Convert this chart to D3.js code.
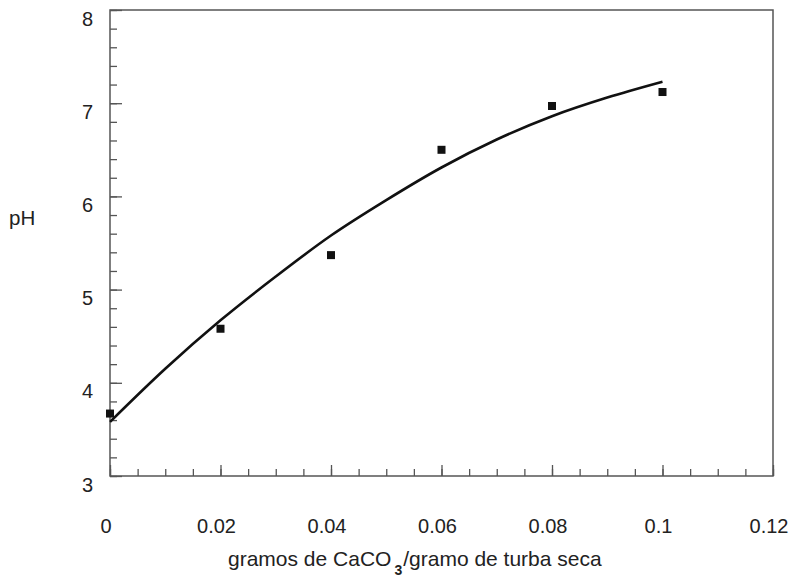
<!DOCTYPE html>
<html>
<head>
<meta charset="utf-8">
<script src="https://cdn.jsdelivr.net/npm/d3@7"></script>
<style>
  html, body { margin: 0; padding: 0; background: #fff; }
  svg { display: block; }
  text { font-family: "Liberation Sans", Arial, sans-serif; fill: #222; }
</style>
</head>
<body>
<svg id="chart" width="790" height="582"></svg>
<script>
// Measured data points (g CaCO3 / g dry peat, pH)
const doseX = [0, 0.02, 0.04, 0.06, 0.08, 0.1];
const phValues = [3.67, 4.58, 5.37, 6.50, 6.97, 7.12];

// Fitted curve
const fitX = [0, 0.01, 0.02, 0.03, 0.04, 0.05, 0.06, 0.07, 0.08, 0.09, 0.1];
const fitPh = [3.58, 4.15, 4.67, 5.14, 5.58, 5.96, 6.31, 6.61, 6.86, 7.06, 7.23];

const xTicks = [0, 0.02, 0.04, 0.06, 0.08, 0.1, 0.12];
const xTickLabels = ["0", "0.02", "0.04", "0.06", "0.08", "0.1", "0.12"];
const yTicks = [3, 4, 5, 6, 7, 8];
const yTickLabels = ["3", "4", "5", "6", "7", "8"];

const svg = d3.select("#chart");
const mLeft = 110, mRight = 773, mTop = 10, mBottom = 476;

const x = d3.scaleLinear().domain([0, 0.12]).range([mLeft, mRight]);
const y = d3.scaleLinear().domain([3, 8]).range([mBottom, mTop]);

const axisColor = "#555";
const fontFam = "Liberation Sans, Arial, sans-serif";

// frame
svg.append("rect")
  .attr("x", mLeft).attr("y", mTop)
  .attr("width", mRight - mLeft).attr("height", mBottom - mTop)
  .attr("fill", "none").attr("stroke", axisColor).attr("stroke-width", 1.5);

// minor + major ticks (inward)
const xMinor = d3.range(0, 0.12001, 0.005);
const yMinor = d3.range(3, 8.0001, 0.2);

const xAxisMinor = d3.axisBottom(x).tickValues(xMinor).tickSize(-7).tickFormat("");
const xAxisMajor = d3.axisBottom(x).tickValues(xTicks).tickSize(-11)
  .tickFormat((d, i) => xTickLabels[i]).tickPadding(0);
const yAxisMinor = d3.axisLeft(y).tickValues(yMinor).tickSize(-7).tickFormat("");
const yAxisMajor = d3.axisLeft(y).tickValues(yTicks).tickSize(-12)
  .tickFormat((d, i) => yTickLabels[i]);

function styleAxis(g) {
  g.select(".domain").remove();
  g.selectAll(".tick line").attr("stroke", axisColor).attr("stroke-width", 1.3);
}

svg.append("g").attr("transform", `translate(0,${mBottom})`).call(xAxisMinor).call(styleAxis);
const gx = svg.append("g").attr("transform", `translate(0,${mBottom})`).call(xAxisMajor).call(styleAxis);
gx.selectAll(".tick text")
  .attr("y", 0).attr("dy", 0)
  .attr("transform", "translate(-4.5,57)")
  .attr("font-size", 20).attr("font-family", fontFam)
  .attr("fill", "#222");

svg.append("g").attr("transform", `translate(${mLeft},0)`).call(yAxisMinor).call(styleAxis);
const gy = svg.append("g").attr("transform", `translate(${mLeft},0)`).call(yAxisMajor).call(styleAxis);
gy.selectAll(".tick text")
  .attr("x", -17).attr("dy", 0)
  .attr("transform", "translate(0,15)")
  .attr("font-size", 20).attr("font-family", fontFam)
  .attr("fill", "#222");

// fitted curve
const line = d3.line()
  .x((d, i) => x(fitX[i]))
  .y(d => y(d))
  .curve(d3.curveMonotoneX);
svg.append("path")
  .datum(fitPh)
  .attr("d", line)
  .attr("fill", "none")
  .attr("stroke", "#111")
  .attr("stroke-width", 2.6);

// data points
const sq = 8;
svg.selectAll("rect.pt")
  .data(phValues)
  .enter().append("rect")
  .attr("class", "pt")
  .attr("x", (d, i) => x(doseX[i]) - sq / 2)
  .attr("y", d => y(d) - sq / 2)
  .attr("width", sq).attr("height", sq)
  .attr("fill", "#111");

// axis titles
svg.append("text")
  .attr("x", 9).attr("y", 225)
  .attr("font-size", 20.5)
  .text("pH");

const title = svg.append("text")
  .attr("x", 228).attr("y", 566)
  .attr("font-size", 21);
title.append("tspan").text("gramos de CaCO");
title.append("tspan").attr("dx", 3).attr("dy", 9).attr("font-size", 14).attr("font-weight", "bold").text("3");
title.append("tspan").attr("dx", 1).attr("dy", -9).text("/gramo de turba seca");
</script>
</body>
</html>
